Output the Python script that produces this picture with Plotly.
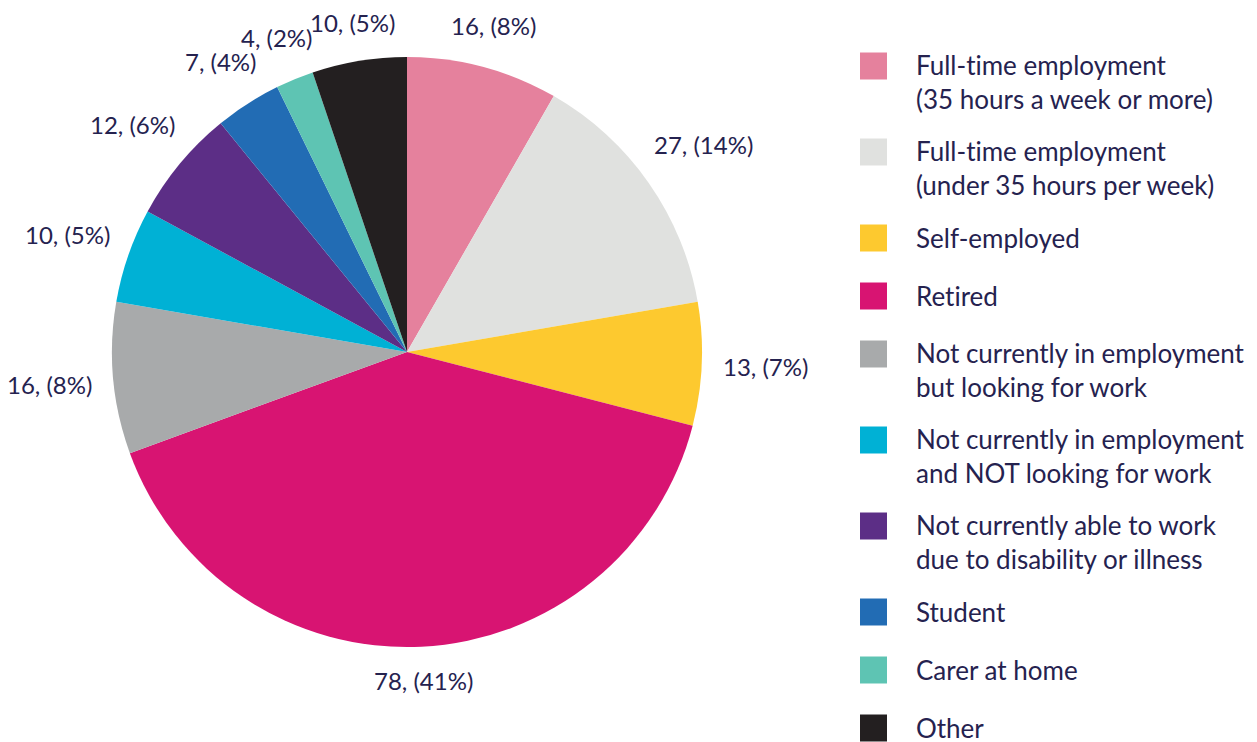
import math
import plotly.graph_objects as go

# ---- data ----
categories = [
    "Full-time employment<br>(35 hours a week or more)",
    "Full-time employment<br>(under 35 hours per week)",
    "Self-employed",
    "Retired",
    "Not currently in employment<br>but looking for work",
    "Not currently in employment<br>and NOT looking for work",
    "Not currently able to work<br>due to disability or illness",
    "Student",
    "Carer at home",
    "Other",
]
values = [16, 27, 13, 78, 16, 10, 12, 7, 4, 10]
pct_labels = [8, 14, 7, 41, 8, 5, 6, 4, 2, 5]
colors = ["#E5819D", "#E0E1DF", "#FDC92F", "#D81472", "#A8AAAB",
          "#00B1D5", "#5C2E86", "#226CB4", "#5EC4B3", "#231F20"]

NAVY = "#25224F"
FONT = "Lato"
LABEL_SIZE = 24
LEGEND_SIZE = 26

W, H = 1257, 742
cx, cy, r = 407, 352, 295

fig = go.Figure(go.Pie(
    labels=[c.replace("<br>", " ") for c in categories],
    values=values,
    text=[f"{v}, ({p}%)" for v, p in zip(values, pct_labels)],
    textinfo="none",
    hovertemplate="%{label}: %{text}<extra></extra>",
    sort=False,
    direction="clockwise",
    rotation=0,
    marker=dict(colors=colors, line=dict(width=0)),
    showlegend=False,
    domain=dict(x=[(cx - r) / W, (cx + r) / W],
                y=[1 - (cy + r) / H, 1 - (cy - r) / H]),
))

# ---- data labels, placed just outside each slice at its mid-angle ----
total = sum(values)
cum = 0.0
gap = 20
for v, p in zip(values, pct_labels):
    theta = 2 * math.pi * (cum + v / 2) / total  # clockwise from 12 o'clock
    cum += v
    txt = f"{v}, ({p}%)"
    w = 10.8 * len(txt)
    h = 24
    s, c = math.sin(theta), math.cos(theta)
    d = r + gap + (w / 2) * abs(s) + (h / 2) * abs(c)
    px, py = cx + d * s, cy - d * c
    fig.add_annotation(xref="paper", yref="paper", x=px / W, y=1 - py / H,
                       xanchor="center", yanchor="middle", text=txt,
                       showarrow=False,
                       font=dict(family=FONT, size=LABEL_SIZE, color=NAVY))

# ---- custom legend (large square swatches) ----
y = 66.0
LS = LEGEND_SIZE * 1.3
for cat, col in zip(categories, colors):
    lines = cat.count("<br>") + 1
    fig.add_shape(type="rect", xref="paper", yref="paper",
                  x0=860 / W, x1=887 / W,
                  y0=1 - (y + 13.5) / H, y1=1 - (y - 13.5) / H,
                  fillcolor=col, line_width=0)
    fig.add_annotation(xref="paper", yref="paper",
                       x=914 / W, y=1 - (y + (lines - 1) * LS / 2 - 0.5) / H,
                       xanchor="left", yanchor="middle", align="left",
                       text=cat, showarrow=False,
                       font=dict(family=FONT, size=LEGEND_SIZE, color=NAVY))
    y += 58 + 28 * (lines - 1)

fig.update_layout(
    width=W, height=H,
    margin=dict(l=0, r=0, t=0, b=0),
    paper_bgcolor="white",
    plot_bgcolor="white",
    showlegend=False,
)

fig.write_html(
    "out.html",
    config={"displayModeBar": False},
    post_script=(
        "document.body.style.margin='0';"
        "var st=document.createElement('style');"
        "st.textContent='text,tspan{font-variant-ligatures:none;font-feature-settings:\"liga\" 0,\"clig\" 0;}';"
        "document.head.appendChild(st);"
    ),
)
